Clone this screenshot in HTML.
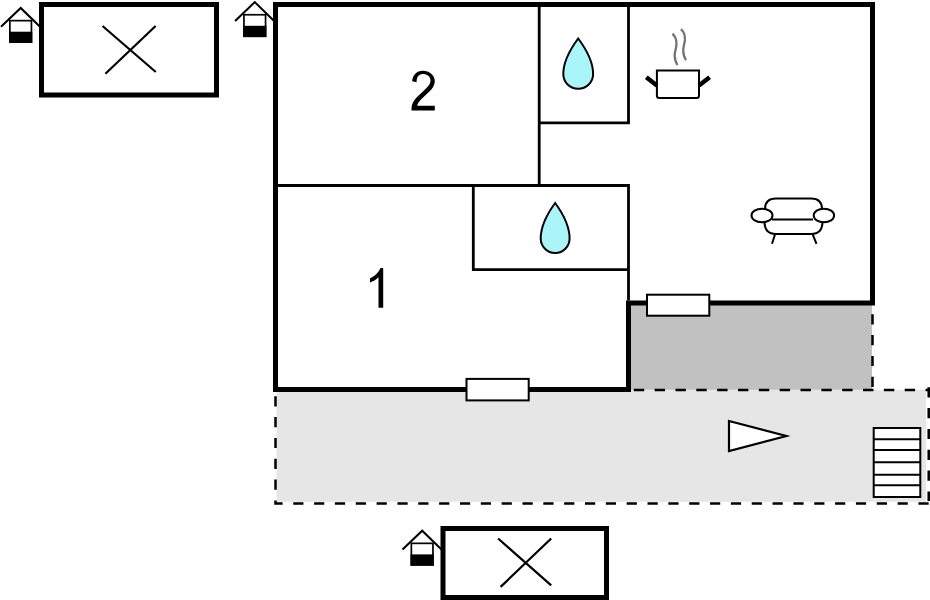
<!DOCTYPE html>
<html><head><meta charset="utf-8">
<style>
html,body{margin:0;padding:0;background:#fff;width:930px;height:600px;overflow:hidden;}
svg{display:block;}
text{font-family:"Liberation Sans", sans-serif;}
</style></head><body>
<svg width="930" height="600" viewBox="0 0 930 600">
<!-- terrace fills -->
<rect x="276.5" y="389.8" width="649.5" height="112" fill="#e6e6e6"/>
<rect x="630" y="305" width="242" height="84.8" fill="#c1c1c1"/>

<!-- dashed outlines -->
<g fill="none" stroke="#000" stroke-width="2.5" stroke-dasharray="10.2 10.64">
  <path d="M275.5 396.2 V503.5 H930"/>
  <path d="M633.8 390 H930" stroke-dasharray="10.4 10.44"/>
  <path d="M928.7 387.2 V501"/>
  <path d="M872.5 314.2 V389"/>
</g>

<!-- house icons -->
<g id="h1">
  <path d="M1 26.8 L20.7 8 L40 26.8" fill="none" stroke="#000" stroke-width="2.1"/>
  <rect x="9.85" y="20.65" width="21.6" height="21.5" fill="#fff" stroke="#000" stroke-width="1.7"/>
  <rect x="9" y="31.7" width="23.3" height="11.3" fill="#000"/>
</g>
<g transform="translate(234.1 -5.9)">
  <path d="M1 26.8 L20.7 8 L40 26.8" fill="none" stroke="#000" stroke-width="2.1"/>
  <rect x="9.85" y="20.65" width="21.6" height="21.5" fill="#fff" stroke="#000" stroke-width="1.7"/>
  <rect x="9" y="31.7" width="23.3" height="11.3" fill="#000"/>
</g>
<g transform="translate(401.5 522.7)">
  <path d="M1 26.8 L20.7 8 L40 26.8" fill="none" stroke="#000" stroke-width="2.1"/>
  <rect x="9.85" y="20.65" width="21.6" height="21.5" fill="#fff" stroke="#000" stroke-width="1.7"/>
  <rect x="9" y="31.7" width="23.3" height="11.3" fill="#000"/>
</g>

<!-- outbuilding boxes -->
<rect x="41.5" y="4.5" width="175" height="90.5" fill="#fff" stroke="#000" stroke-width="5"/>
<path d="M102.5 26 L155.8 72 M155.6 26 L105.4 73.8" stroke="#000" stroke-width="2.2" fill="none"/>
<rect x="443" y="528.5" width="163.5" height="69" fill="#fff" stroke="#000" stroke-width="5"/>
<path d="M498.1 538.5 L551.2 585.3 M551.2 538.5 L500.6 586.9" stroke="#000" stroke-width="2.2" fill="none"/>

<!-- main building -->
<g fill="none" stroke="#000" stroke-linecap="butt" stroke-linejoin="miter">
  <path d="M275.5 389.5 V4.5 H872.5 V303 H628.5 V389.5 Z" stroke-width="5"/>
  <path d="M539.2 7 V185.5" stroke-width="2.8"/>
  <path d="M628.5 7 V122.9 H539.2" stroke-width="2.8"/>
  <path d="M278 185.5 H628.5 V300.5" stroke-width="2.8"/>
  <path d="M473.3 185.5 V269.6 H628.5" stroke-width="2.8"/>
</g>

<!-- windows -->
<rect x="647" y="294.7" width="62.3" height="21" fill="#fff" stroke="#000" stroke-width="2"/>
<rect x="466.5" y="378.9" width="62.2" height="21.5" fill="#fff" stroke="#000" stroke-width="2"/>

<!-- room numbers -->
<path d="M412.2 81.2 C412.5 75 416.8 70.7 422.6 70.7 C429.5 70.7 434.8 75 434.8 81 C434.8 85 432.8 88.2 429.6 91.2 L420.5 100 C418.8 101.8 417.6 103.8 417.2 105.8 H434.8 V110.5 H411.5 V108.5 C411.5 104 413.5 100.5 417 97 L424.2 90.2 C428.5 86.2 430.5 84 430.5 80.5 C430.5 76.6 427.2 74 422.6 74 C418.4 74 416.6 77.6 416.6 82.2 Z" fill="#000"/>
<path d="M383.2 267.9 V307.8 H378.5 V277.2 C376 279.5 373 281.5 370 282.5 V278.2 C374.5 276.5 378.5 272.5 380.5 267.9 Z" fill="#000"/>

<!-- drops -->
<path d="M555.15 203 C550 210 540.7 224 540.7 238.55 A14.45 14.45 0 0 0 569.6 238.55 C569.6 224 560.3 210 555.15 203 Z" fill="#a9f5f9" stroke="#000" stroke-width="2"/>
<path d="M578.2 38.5 C573 45.5 563.3 59.5 563.3 73.9 A14.9 14.9 0 0 0 593.1 73.9 C593.1 59.5 583.4 45.5 578.2 38.5 Z" fill="#a9f5f9" stroke="#000" stroke-width="2"/>

<!-- pot -->
<g fill="none">
  <path d="M672.5 33.6 C677 38 677 45 675.5 50 C674 55 674.5 60 677.4 65" stroke="#737373" stroke-width="2.3"/>
  <path d="M680.9 29.1 C685.5 33 685.5 40 684 45 C682.5 50 683 55 686 60.3" stroke="#737373" stroke-width="2.3"/>
  <path d="M656.9 70.4 H699 V95.5 Q699 98 696.5 98 H659.4 Q656.9 98 656.9 95.5 Z" fill="#fff" stroke="#000" stroke-width="2"/>
  <path d="M646.3 77.2 L656.9 85.5 M699 85.5 L709.6 77.3" stroke="#000" stroke-width="4.5"/>
</g>

<!-- armchair -->
<g fill="none" stroke="#000" stroke-width="2">
  <path d="M765 209 Q765 198.5 776 198.5 H811 Q822 198.5 822 209"/>
  <path d="M764.5 221.5 Q764.5 234 776 234 H811 Q822.5 234 822.5 221.5"/>
  <path d="M772 219.5 H813"/>
  <ellipse cx="762" cy="215.5" rx="10.5" ry="6.8"/>
  <ellipse cx="823.9" cy="215.5" rx="10.2" ry="6.8"/>
  <path d="M775 234.4 L772 243.8 M812.7 234.4 L816.5 243.8"/>
</g>

<!-- stairs -->
<g fill="#fff" stroke="#000" stroke-width="2">
  <rect x="873.7" y="428" width="46.6" height="69"/>
  <path d="M873.7 439.2 H920.3 M873.7 450 H920.3 M873.7 462.3 H920.3 M873.7 474.7 H920.3 M873.7 485.2 H920.3"/>
</g>

<!-- entrance arrow -->
<path d="M729 421 L786.3 436 L729 451 Z" fill="#fff" stroke="#000" stroke-width="2.2" stroke-miterlimit="6"/>
</svg>
</body></html>
